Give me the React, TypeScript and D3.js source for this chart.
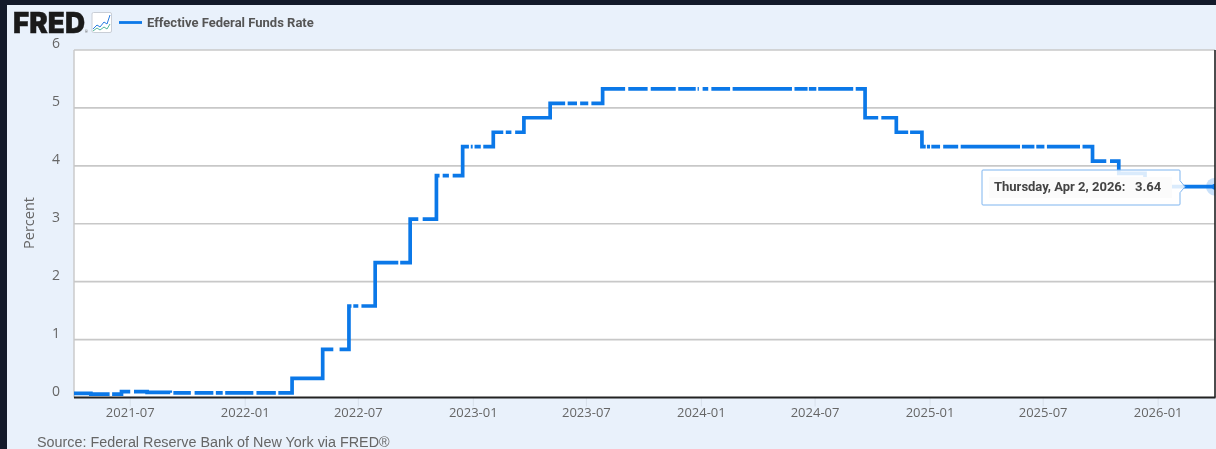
import React from "react";
import * as d3 from "d3";

const stepDates = ["2021-04-02","2021-04-29","2021-06-17","2021-07-28","2021-09-03","2022-03-17","2022-05-05","2022-06-16","2022-07-28","2022-09-22","2022-11-03","2022-12-15","2023-02-02","2023-03-23","2023-05-04","2023-07-27","2024-09-19","2024-11-08","2024-12-19","2025-09-18","2025-10-30","2025-12-11"];
const stepValues = [0.07,0.06,0.10,0.09,0.08,0.33,0.83,1.58,2.33,3.08,3.83,4.33,4.58,4.83,5.08,5.33,4.83,4.58,4.33,4.08,3.87,3.64];
const gapRanges: [string,string][] = [
  ["2021-05-29","2021-06-02"],["2021-07-01","2021-07-07"],["2021-09-03","2021-09-08"],["2021-10-06","2021-10-12"],["2021-11-11","2021-11-15"],["2021-11-26","2021-11-30"],["2022-01-14","2022-01-19"],["2022-02-19","2022-02-23"],
  ["2022-05-22","2022-06-01"],["2022-06-20","2022-06-23"],["2022-07-01","2022-07-06"],["2022-09-03","2022-09-06"],["2022-10-05","2022-10-12"],["2022-11-08","2022-11-13"],["2022-11-23","2022-11-29"],
  ["2022-12-25","2022-12-28"],["2022-12-31","2023-01-03"],["2023-01-13","2023-01-17"],["2023-02-18","2023-02-22"],["2023-03-03","2023-03-09"],["2023-05-28","2023-06-01"],["2023-06-16","2023-06-21"],["2023-07-04","2023-07-09"],
  ["2023-09-01","2023-09-06"],["2023-10-07","2023-10-12"],["2023-11-21","2023-11-25"],["2023-12-23","2023-12-26"],["2023-12-28","2024-01-03"],["2024-01-12","2024-01-17"],["2024-02-16","2024-02-20"],["2024-05-25","2024-05-29"],["2024-06-19","2024-06-21"],["2024-07-03","2024-07-06"],["2024-08-31","2024-09-04"],
  ["2024-10-10","2024-10-15"],["2024-11-27","2024-11-30"],["2024-12-25","2024-12-27"],["2025-01-01","2025-01-03"],["2025-01-17","2025-01-22"],["2025-02-15","2025-02-19"],["2025-05-25","2025-05-28"],["2025-06-17","2025-06-20"],["2025-07-03","2025-07-07"],["2025-08-29","2025-09-02"],["2025-10-10","2025-10-16"],
];
const xTickLabels = ["2021-07","2022-01","2022-07","2023-01","2023-07","2024-01","2024-07","2025-01","2025-07","2026-01"];
const yTicks = [0,1,2,3,4,5,6];
const lastDate = "2026-04-02";
const lastValue = 3.64;
const tooltipDate = "Thursday, Apr 2, 2026:";
const legendLabel = "Effective Federal Funds Rate";
const sourceLabel = "Source: Federal Reserve Bank of New York via FRED®";

const W = 1216, H = 449;
const L = 74, R = 1215, T = 50, B = 397.5;
const BLUE = "#0b78e8";
const parse = d3.utcParse("%Y-%m-%d");
const tp = d3.utcParse("%Y-%m");

export default function App() {
  const x = d3.scaleUtc().domain([parse("2021-04-02")!, parse(lastDate)!]).range([L, R]);
  const y = d3.scaleLinear().domain([0, 6]).range([B, T]);
  const starts = stepDates.map((s) => +parse(s)!);
  const gaps = gapRanges.map(([a, b]) => [+parse(a)!, +parse(b)!]);
  const days = d3.utcDay.range(parse("2021-04-02")!, d3.utcDay.offset(parse(lastDate)!, 1));
  const pts = days.map((d) => ({
    d,
    v: stepValues[d3.bisectRight(starts, +d) - 1],
    on: !gaps.some(([a, b]) => +d > a && +d < b),
  }));
  const line = d3.line<typeof pts[number]>().defined((p) => p.on).x((p) => x(p.d)).y((p) => y(p.v)).curve(d3.curveStepAfter);
  const endX = x(parse(lastDate)!), endY = y(lastValue);
  const tb = { x0: 982, x1: 1180, y0: 170, y1: 205 };
  const sans = "'Open Sans', sans-serif";
  const roboto = "Roboto, sans-serif";

  return (
    <svg width={W} height={H} viewBox={`0 0 ${W} ${H}`} style={{ position: "absolute", left: 0, top: 0, display: "block", filter: "blur(0.35px)" }}>
      <defs><clipPath id="plot"><rect x={L} y={T} width={R - L} height={B - T} /></clipPath></defs>
      <rect width={W} height={H} fill="#131a2a" />
      <rect x={7} y={5} width={W - 7} height={H - 5} fill="#e9f1fb" />
      <rect x={L} y={T} width={R - L} height={B - T} fill="#fff" />

      {/* header */}
      <text x={13} y={33} fontFamily="Inter, sans-serif" fontWeight={900} fontSize={29} fill="#1a1a1a" stroke="#1a1a1a" strokeWidth={0.4} textLength={72} lengthAdjust="spacingAndGlyphs">FRED</text>
      <text x={85} y={33} fontFamily={roboto} fontSize={3.5} fill="#555">®</text>
      <rect x={92} y={12.5} width={19.5} height={20} rx={1.5} fill="#fff" stroke="#c9ced6" />
      <path d="M93 29 L97 25 L100 27 L104 22 L107 24 L110 15" fill="none" stroke="#2a7de1" strokeWidth={1} />
      <path d="M93 31 L97 28 L100 30 L104 27 L107 29 L110 24" fill="none" stroke="#54b79c" strokeWidth={1} />
      <line x1={119} x2={142} y1={22.5} y2={22.5} stroke={BLUE} strokeWidth={2.8} />
      <text x={147} y={26.5} fontFamily={roboto} fontWeight={700} fontSize={13} fill="#555">{legendLabel}</text>

      {/* y axis */}
      {yTicks.map((t) => (
        <g key={t}>
          {t > 0 && <line x1={L} x2={R} y1={y(t)} y2={y(t)} stroke="#c8c8c8" strokeWidth={1.6} />}
          <text x={56} y={y(t) - 2} textAnchor="middle" fontFamily={sans} fontSize={14} fill="#666">{t}</text>
        </g>
      ))}
      <line x1={L} x2={L} y1={T} y2={B} stroke="#c8c8c8" strokeWidth={1.4} />
      <text transform="translate(34,223) rotate(-90)" textAnchor="middle" fontFamily={sans} fontSize={14.5} fill="#666">Percent</text>

      {/* series */}
      <g clipPath="url(#plot)">
        <path d={line(pts) ?? ""} fill="none" stroke={BLUE} strokeWidth={3.7} strokeLinejoin="miter" />
        <circle cx={endX} cy={endY} r={9} fill={BLUE} opacity={0.22} />
        <circle cx={endX} cy={endY} r={3} fill={BLUE} />
      </g>

      {/* x axis */}
      {xTickLabels.map((t) => {
        const px = x(tp(t)!);
        return (
          <g key={t}>
            <line x1={px} x2={px} y1={B} y2={B + 9} stroke="#d8e0ea" strokeWidth={1} />
            <text x={px} y={417} textAnchor="middle" fontFamily={sans} fontSize={13} fill="#666">{t}</text>
          </g>
        );
      })}
      <line x1={L} x2={R + 0.5} y1={B} y2={B} stroke="#222" strokeWidth={1.8} />
      <line x1={R} x2={R} y1={T} y2={B} stroke="#222" strokeWidth={1.6} />

      <text x={37} y={447} fontFamily="'Liberation Sans', sans-serif" fontSize={14.35} fill="#666">{sourceLabel}</text>

      {/* tooltip */}
      <path d={`M${tb.x0} ${tb.y0 + 1} Q${tb.x0} ${tb.y0} ${tb.x0 + 1} ${tb.y0} H${tb.x1 - 1} Q${tb.x1} ${tb.y0} ${tb.x1} ${tb.y0 + 1} V${endY - 6} L${tb.x1 + 5} ${endY} L${tb.x1} ${endY + 6} V${tb.y1 - 1} Q${tb.x1} ${tb.y1} ${tb.x1 - 1} ${tb.y1} H${tb.x0 + 1} Q${tb.x0} ${tb.y1} ${tb.x0} ${tb.y1 - 1} Z`}
        fill="#fff" fillOpacity={0.85} stroke="#7fb5ef" strokeWidth={1} />
      <rect x={989} y={177} width={183} height={21} fill="#fbfbfb" />
      <text x={994} y={191} fontFamily={roboto} fontWeight={700} fontSize={13} fill="#444">{tooltipDate}</text>
      <text x={1135} y={191} fontFamily={roboto} fontWeight={700} fontSize={13} fill="#444">{lastValue.toFixed(2)}</text>
    </svg>
  );
}
